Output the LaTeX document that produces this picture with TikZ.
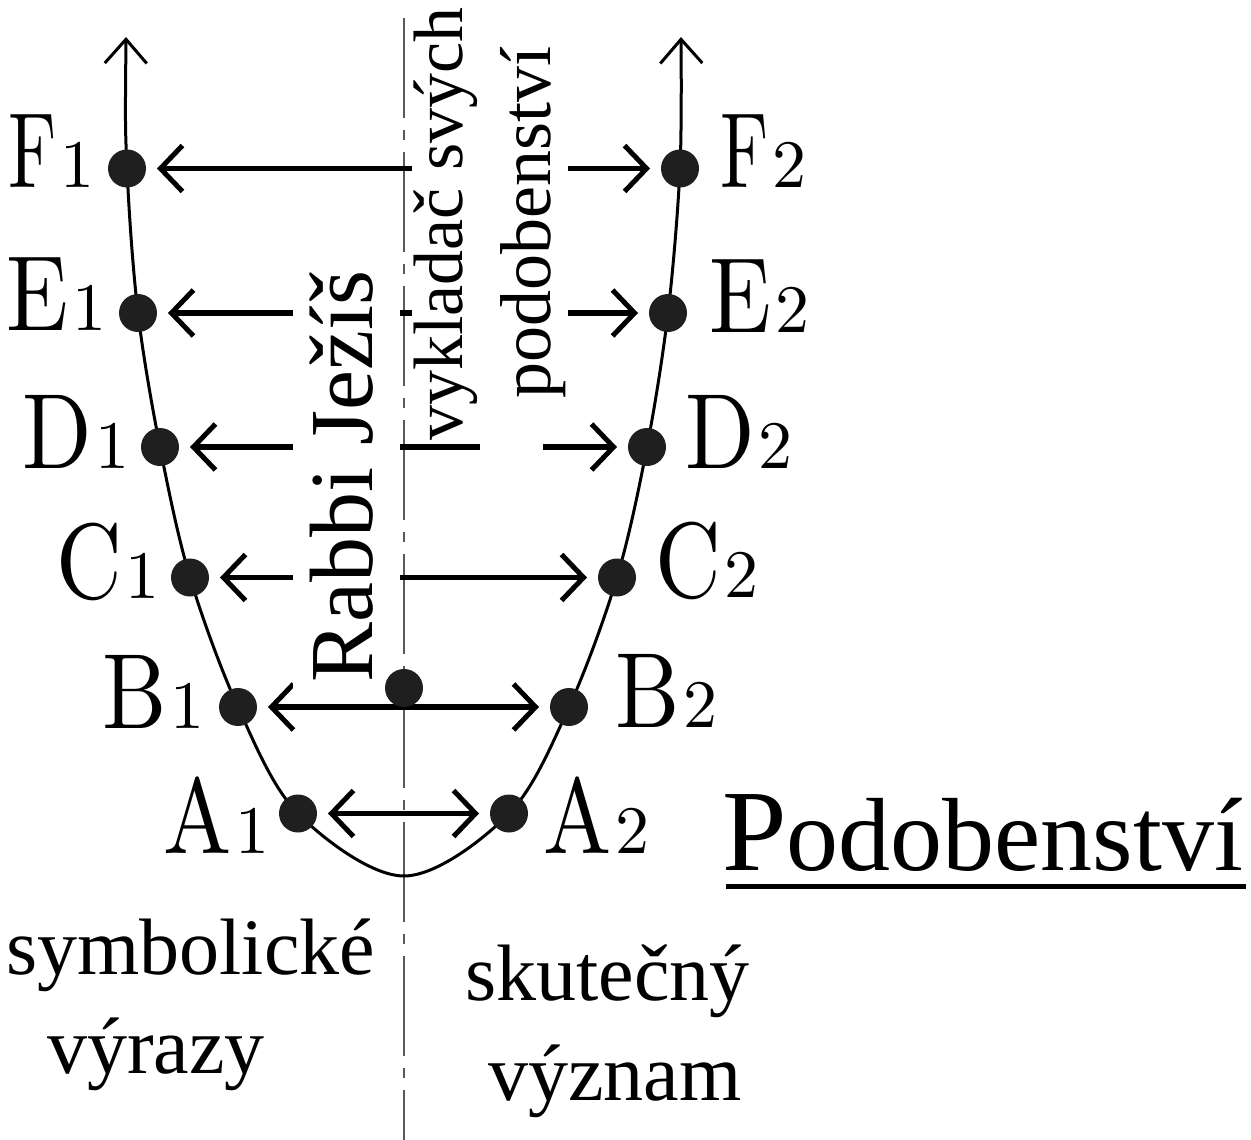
\documentclass[tikz,border=0pt]{standalone}
\usepackage{fontspec}
\newfontfamily\tnr{Liberation Serif}
\usetikzlibrary{arrows.meta}
\newcommand\lab[3][9.1]{\scalebox{#1}[10.7]{\fontsize{10}{10}\selectfont #2}\hspace{4pt}\scalebox{6.8}{\fontsize{10}{10}\selectfont #3}}
\tikzset{
  dotn/.style={circle, fill=black!88, draw=none, inner sep=0pt, outer sep=0pt, minimum size=38pt},
  harrow/.style={line width=5.5pt,
    {Straight Barb[length=22pt,width=46pt,line width=5pt]}-{Straight Barb[length=22pt,width=46pt,line width=5pt]},
    shorten <=11pt, shorten >=11pt},
  curve/.style={line width=3pt,
    {Straight Barb[length=24pt,width=42pt,line width=3pt]}-{Straight Barb[length=24pt,width=42pt,line width=3pt]}},
  axisl/.style={line width=2pt, black!65, dash pattern=on 100pt off 12pt on 10pt off 12pt},
  mask/.style={fill=white, draw=none},
  lbl/.style={anchor=base west, inner sep=0pt},
  lblr/.style={anchor=base east, inner sep=0pt},
  word/.style={anchor=base west, inner sep=0pt, font=\tnr\fontsize{80}{80}\selectfont},
  vword/.style={anchor=base west, inner sep=0pt, rotate=90}
}
\begin{document}
\begin{tikzpicture}[x=1pt,y=-1pt]
\useasboundingbox (0,0) rectangle (1251,1140);
\fill[white] (0,0) rectangle (1251,1140);
% coordinates of the points on the curve
\coordinate (tl) at (126,37);
\coordinate (tr) at (681,37);
\coordinate (pF1) at (127,168.5);
\coordinate (pE1) at (138,313);
\coordinate (pD1) at (160,447);
\coordinate (pC1) at (190,577.5);
\coordinate (pB1) at (238,707);
\coordinate (pA1) at (298,813.5);
\coordinate (vx) at (404,876);
\coordinate (pA2) at (509,813.5);
\coordinate (pB2) at (569,707);
\coordinate (pC2) at (617,577.5);
\coordinate (pD2) at (647,447);
\coordinate (pE2) at (668,313);
\coordinate (pF2) at (680,168.5);
\coordinate (axtop) at (404,18);
\coordinate (axbot) at (404,1140);
% axis
\draw[axisl] (axtop) -- (axbot);
% dots (nodes)
\foreach \n in {A1,B1,C1,D1,E1,F1,A2,B2,C2,D2,E2,F2}{\node[dotn, fill=none] (\n) at (p\n) {};}
% horizontal arrows
\foreach \r in {A,B,C,D,E,F}{\draw[harrow] (\r1) -- (\r2);}
% white masks behind the vertical texts
\fill[mask] (293,255) rectangle (400,690);
\fill[mask] (412,0) rectangle (568,432);
\fill[mask] (480,438) rectangle (543,456);
% curve
\draw[curve] plot[smooth, tension=0.55] coordinates {(tl) (pF1) (pE1) (pD1) (pC1) (pB1) (pA1) (vx) (pA2) (pB2) (pC2) (pD2) (pE2) (pF2) (tr)};
% visible dots
\foreach \n in {A1,B1,C1,D1,E1,F1,A2,B2,C2,D2,E2,F2}{\node[dotn] at (p\n) {};}
\node[dotn] (cdot) at (404,688) {};
% labels
\node[lblr] (lF1) at (95,187) {\lab[7.4]{F}{1}};
\node[lblr] (lE1) at (107,330) {\lab{E}{1}};
\node[lblr] (lD1) at (130,468) {\lab{D}{1}};
\node[lblr] (lC1) at (160,598) {\lab{C}{1}};
\node[lblr] (lB1) at (205,728) {\lab{B}{1}};
\node[lblr] (lA1) at (270,853) {\lab{A}{1}};
\node[lbl] (lF2) at (720,187) {\lab[7.4]{F}{2}};
\node[lbl] (lE2) at (709,332) {\lab{E}{2}};
\node[lbl] (lD2) at (685,468) {\lab{D}{2}};
\node[lbl] (lC2) at (655,597) {\lab{C}{2}};
\node[lbl] (lB2) at (615,727) {\lab{B}{2}};
\node[lbl] (lA2) at (543,853) {\lab{A}{2}};
% vertical texts
\node[vword, font=\tnr\fontsize{90}{90}\selectfont] (rabbi) at (372,683) {Rabbi Ježíš};
\node[vword, font=\tnr\fontsize{70}{70}\selectfont] (vyk) at (462,441) {vykladač svých};
\node[vword, font=\tnr\fontsize{72}{72}\selectfont] (pod) at (550,399) {podobenství};
% bottom words
\node[word] (sym) at (6,974) {symbolické};
\node[word] (vyr) at (47,1073) {výrazy};
\node[word] (sku) at (465,1000) {skutečný};
\node[word] (vyz) at (488,1100) {význam};
% title
\node[anchor=base west, inner sep=0pt] (title) at (722,870) {\tnr{\fontsize{116}{116}\selectfont P}{\fontsize{104}{104}\selectfont odobenství}};
\coordinate (ulA) at (726,886);
\coordinate (ulB) at (1246,886);
\draw[line width=5pt] (ulA) -- (ulB);
\end{tikzpicture}
\end{document}
